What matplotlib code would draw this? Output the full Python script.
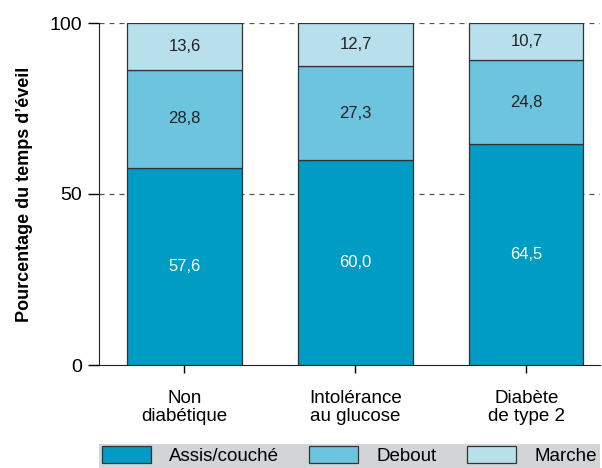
import numpy as np
import matplotlib
matplotlib.use("Agg")
from matplotlib import pyplot as plt

plt.rcParams['font.family'] = ['Liberation Sans', 'DejaVu Sans']

# Données
categories = ["Non\ndiabétique", "Intolérance\nau glucose", "Diabète\nde type 2"]
assis = [57.6, 60.0, 64.5]
debout = [28.8, 27.3, 24.8]
marche = [13.6, 12.7, 10.7]
series_noms = ["Assis/couché", "Debout", "Marche"]
couleurs = ["#009cc3", "#6cc4de", "#b8dfec"]
y_ticks = [0, 50, 100]

fig = plt.figure(figsize=(6.02, 4.68), dpi=100)
ax = fig.add_axes([99 / 602, (468 - 365) / 468, 501 / 602, 342 / 468])

x = np.arange(len(categories))
largeur = 0.667
bas = np.zeros(len(categories))
for i, (vals, nom) in enumerate(zip([assis, debout, marche], series_noms)):
    ax.bar(x, vals, largeur, bottom=bas, color=couleurs[i],
           edgecolor="#333333", linewidth=0.9, zorder=3, label=nom)
    for xi, b, v in zip(x, bas, vals):
        txt = f"{v:.1f}".replace(".", ",")
        ax.text(xi, b + v / 2, txt, ha="center", va="center", fontsize=12,
                color="white" if i == 0 else "#222222", zorder=4)
    bas += np.array(vals)

# grille pointillée
for t in y_ticks[1:]:
    ax.axhline(t, color="#555555", linestyle=(0, (4, 4)), linewidth=0.9, zorder=1)

ax.set_xlim(-0.5, 2.43)
ax.set_ylim(0, 100)
ax.set_yticks(y_ticks)
ax.set_yticklabels([str(t) for t in y_ticks], fontsize=14)
ax.set_xticks(x)
ax.set_xticklabels(categories, fontsize=13.5, linespacing=1.1)
ax.tick_params(axis="y", direction="out", length=8, width=1, pad=4)
ax.tick_params(axis="x", direction="out", length=6, width=1, pad=12)
for s in ["top", "right"]:
    ax.spines[s].set_visible(False)
ax.spines["left"].set_color("#222222")
ax.spines["bottom"].set_color("#222222")
ax.set_ylabel("Pourcentage du temps d\u2019éveil", fontsize=13, fontweight="bold",
              labelpad=12)

# légende dans un bandeau gris
handles, labels = ax.get_legend_handles_labels()
leg = fig.legend(handles, labels, loc="lower left", ncol=3,
                 bbox_to_anchor=(99 / 602, 0.0, 501 / 602, 26 / 468),
                 mode="expand", fontsize=13.5, frameon=True, fancybox=False,
                 borderaxespad=0, handlelength=2.6, handleheight=1.0,
                 borderpad=0.15, handletextpad=1.0)
leg.get_frame().set_facecolor("#c9cacc")
leg.get_frame().set_edgecolor("none")

fig.savefig("out.png", dpi=100)
